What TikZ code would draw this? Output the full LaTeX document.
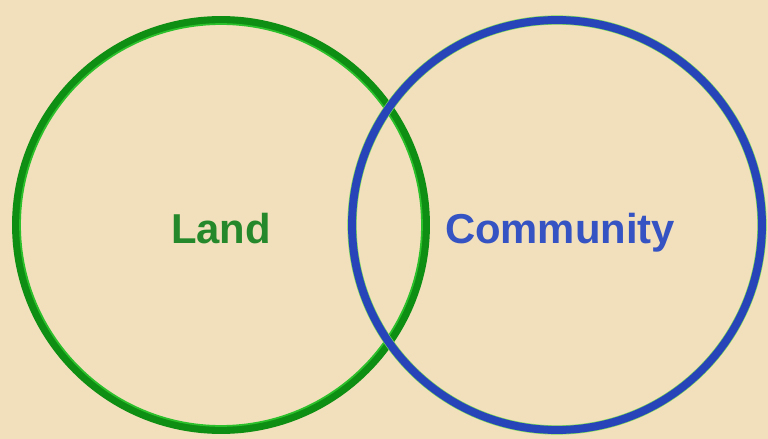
\documentclass[tikz,border=0pt]{standalone}
\usepackage{fontspec}
\setsansfont{Liberation Sans}
\usetikzlibrary{positioning}
\definecolor{parch}{HTML}{F1E0BB}
\definecolor{landline}{HTML}{0E8E12}
\definecolor{landglow}{HTML}{2CC02C}
\definecolor{comline}{HTML}{2744B8}
\definecolor{comglow}{HTML}{7CDC5A}
\definecolor{landtext}{HTML}{25892B}
\definecolor{comtext}{HTML}{3553C2}

\begin{document}
\begin{tikzpicture}[x=0.02cm, y=-0.02cm,
  font=\sffamily\bfseries,
  ring/.style={circle, minimum size=8.2cm, inner sep=0pt, line width=0.16cm},
  landring/.style={ring, draw=landline},
  comring/.style={ring, draw=comline},
  glow/.style={circle, minimum size=#1, inner sep=0pt, line width=0.035cm},
  word/.style={font=\fontsize{23.8}{28}\sffamily\bfseries, inner sep=0pt, anchor=base}
]
  % fond parchemin
  \fill[parch] (0,0) rectangle (768,439);
  \useasboundingbox (0,0) rectangle (768,439);
  % cercle Land
  \node[landring] (land) at (221,225) {};
  \node[glow=8.04cm, draw=landglow] (landin) at (land.center) {};
  % cercle Community (au-dessus)
  \node[glow=8.35cm, draw=comglow] (comout) at (557,225) {};
  \node[glow=8.05cm, draw=comglow] (comin) at (comout.center) {};
  \node[comring] (com) at (comout.center) {};
  % textes
  \node[word, text=landtext] (landtx) at (221,243) {Land};
  \node[word, text=comtext] (comtx) at (560,243) {Community};
\end{tikzpicture}
\end{document}
